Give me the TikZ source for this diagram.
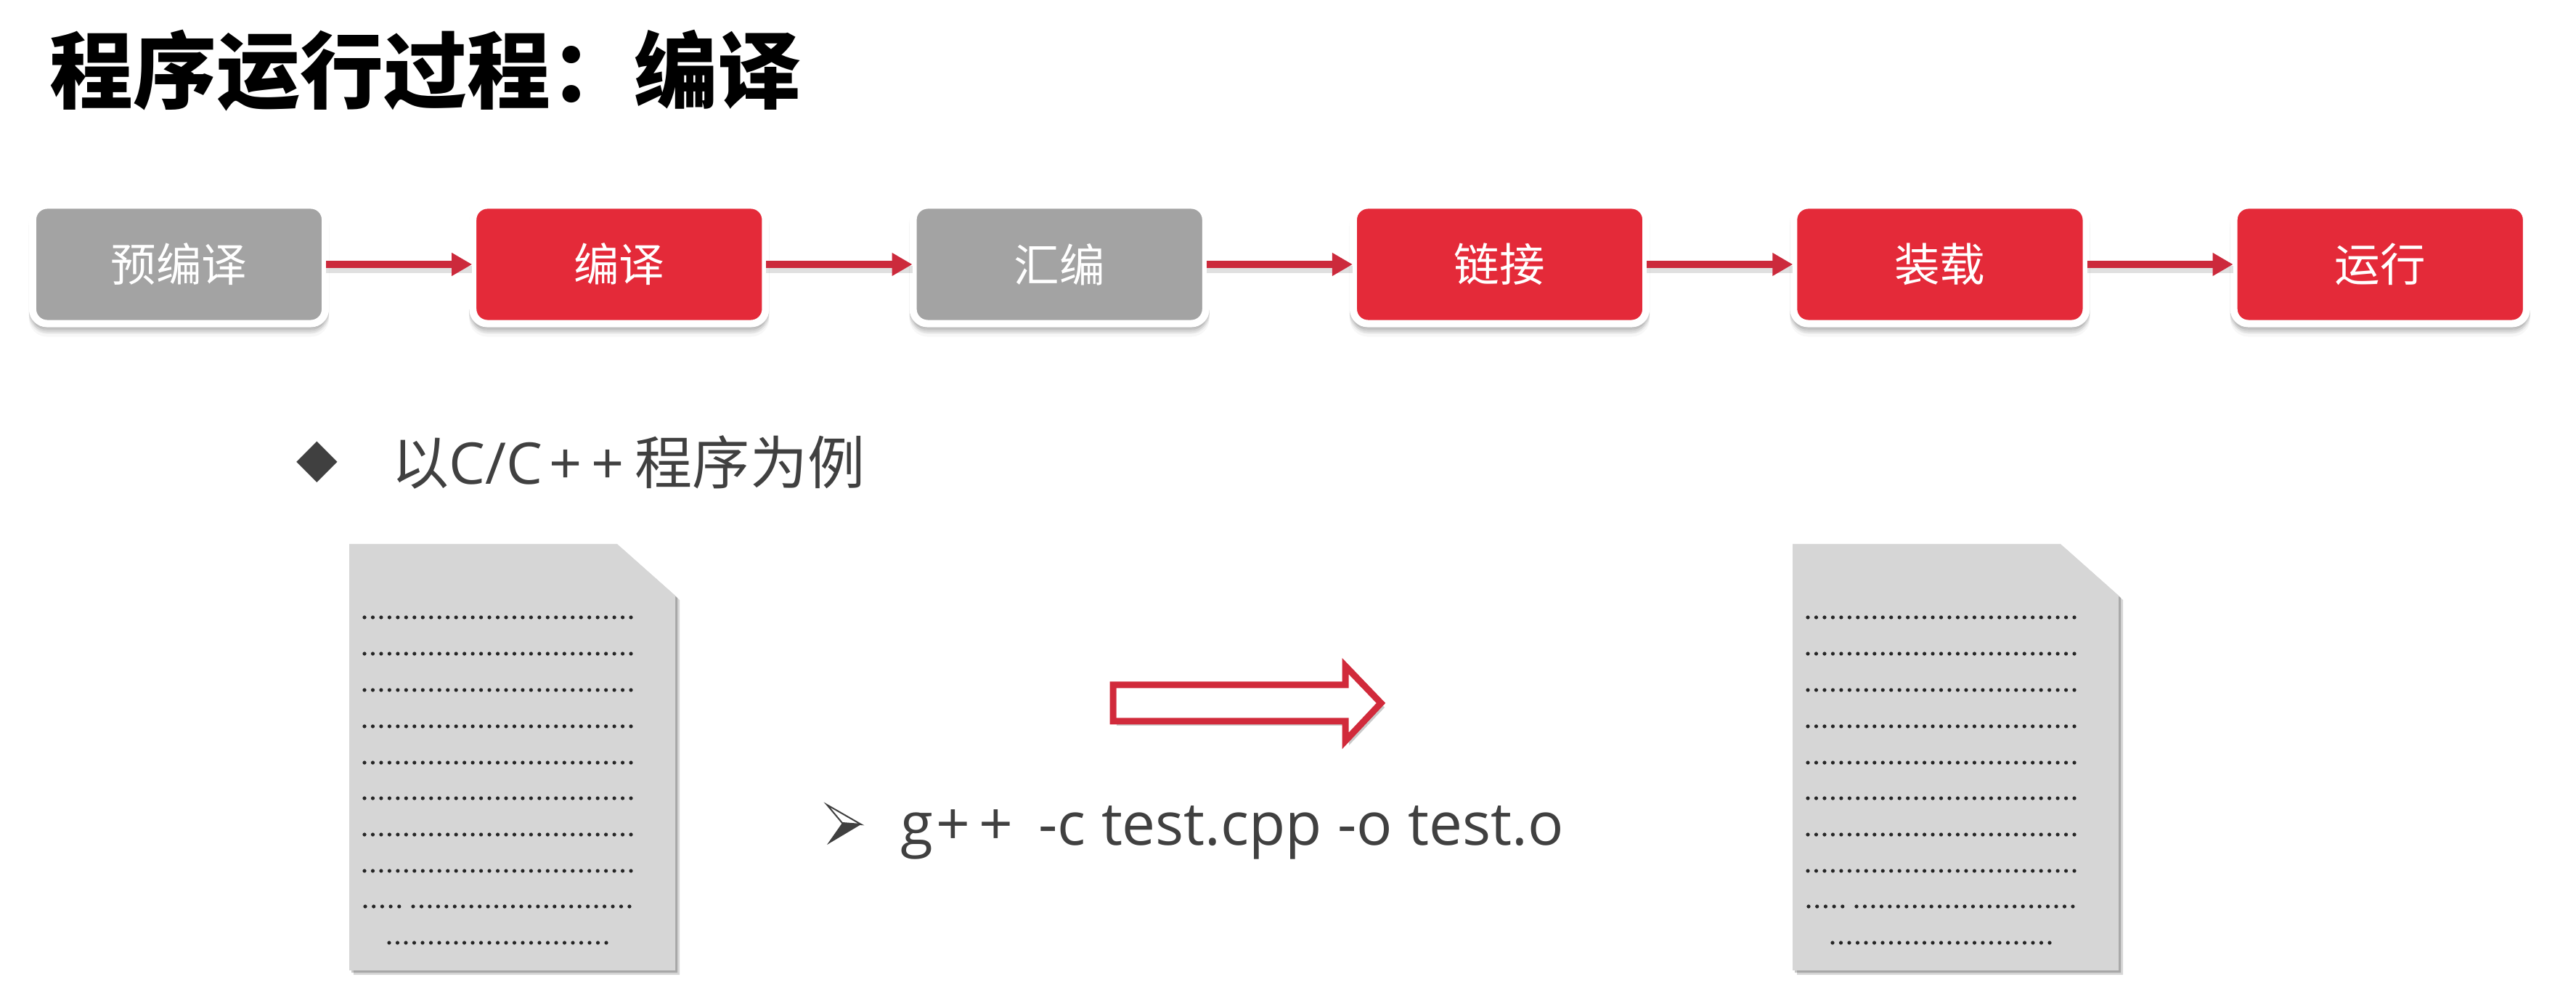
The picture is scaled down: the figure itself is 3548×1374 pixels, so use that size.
\documentclass[tikz,border=0pt]{standalone}
\usepackage{fontspec}
\setmainfont{Open Sans}
\newfontfamily\cjk{Noto Sans CJK SC}
\newfontfamily\symfont{DejaVu Sans}
\usepackage{xcolor}
\usepackage{tikz}
\usetikzlibrary{arrows.meta,positioning,shadows}
\definecolor{StageRed}{HTML}{E42A39}
\definecolor{StageGray}{HTML}{A3A3A3}
\definecolor{LinkRed}{HTML}{CC2A3C}
\definecolor{PaperGray}{HTML}{D6D6D6}
\definecolor{InkGray}{HTML}{404040}

\begin{document}
\begin{tikzpicture}[x=0.01cm,y=-0.01cm,
  softshadow/.style={
    general shadow={shadow xshift=0pt,shadow yshift=-0.03cm,fill=black,draw=black,opacity=0.06},
    general shadow={shadow xshift=0pt,shadow yshift=-0.06cm,fill=black,draw=black,opacity=0.06},
    general shadow={shadow xshift=0pt,shadow yshift=-0.09cm,fill=black,draw=black,opacity=0.05},
    general shadow={shadow xshift=0pt,shadow yshift=-0.13cm,fill=black,draw=black,opacity=0.03}},
  stagebox/.style={rectangle,rounded corners=0.2cm,draw=white,line width=0.10cm,
                   minimum width=4.03cm,minimum height=1.63cm,text=white,
                   font=\cjk\fontsize{17.8}{20}\selectfont,softshadow},
  grayst/.style={stagebox,fill=StageGray},
  redst/.style={stagebox,fill=StageRed},
  link/.style={-{Triangle[length=0.28cm,width=0.30cm]},draw=LinkRed,line width=0.10cm,
               shorten >=-0.04cm,shorten <=-0.04cm,
               preaction={draw=black,opacity=0.12,-,line width=0.10cm,
                          transform canvas={yshift=-0.07cm}}},
  paper/.style={fill=PaperGray,
    general shadow={shadow xshift=0.03cm,shadow yshift=-0.03cm,fill=black,opacity=0.22},
    general shadow={shadow xshift=0.06cm,shadow yshift=-0.06cm,fill=black,opacity=0.16}},
  body/.style={text=InkGray,inner sep=0pt},
  bigarrow/.style={draw=LinkRed!80!StageRed,line width=0.09cm,fill=white,miter limit=10,
                   drop shadow={shadow xshift=0.05cm,shadow yshift=-0.06cm,fill=black!60,opacity=0.35}},
  node distance=1.93cm
]
\useasboundingbox[fill=white] (0,0) rectangle (3548,1374);

\node[anchor=west,inner sep=0pt,font=\cjk\bfseries\fontsize{32.7}{36}\selectfont] (title) at (68,97) {程序运行过程：编译};

\node[grayst] (prep) at (246.5,364) {预编译};
\node[redst,right=of prep]   (comp) {编译};
\node[grayst,right=of comp]  (asm)  {汇编};
\node[redst,right=of asm]    (lnk)  {链接};
\node[redst,right=of lnk]    (load) {装载};
\node[redst,right=of load]   (run)  {运行};

\draw[link] (prep) -- (comp);
\draw[link] (comp) -- (asm);
\draw[link] (asm)  -- (lnk);
\draw[link] (lnk)  -- (load);
\draw[link] (load) -- (run);

\node[body,font=\symfont\fontsize{21}{24}\selectfont] (mark) at (437,636) {◆};
\node[body,anchor=west,font=\fontsize{22.5}{26}\selectfont] (intro) at (539,636) {{\cjk 以}C/C\kern2.5pt+\kern3.7pt+\kern4.2pt{\cjk 程序为例}};

% two sheets
\foreach \dx in {0,1988}{
  \begin{scope}[xshift=\dx*0.01cm]
    \fill[paper] (481,749) -- (850,749) -- (930,820) -- (930,1336) -- (481,1336) -- cycle;
    \foreach \ry in {850,900,950,1000,1050,1099,1149,1199}
      \foreach \k in {0,...,32}
        \fill[black!85] (502+\k*11.47,\ry) circle (2.6);
    \foreach \k in {0,...,4}
      \fill[black!85] (503+\k*11.7,1248) circle (2.6);
    \foreach \k in {0,...,26}{
      \fill[black!85] (569+\k*11.46,1248) circle (2.6);
      \fill[black!85] (536+\k*11.5,1298) circle (2.6);
    }
  \end{scope}
}

\draw[bigarrow] (1533,943) -- (1853,943) -- (1853,917) -- (1902,968) -- (1853,1020) -- (1853,993) -- (1533,993) -- cycle;

% bullet of the command line
\draw[InkGray,line width=0.02cm,fill=white] (1139,1108) -- (1186,1135) -- (1160,1133) -- cycle;
\fill[InkGray] (1139,1163) -- (1186,1135) -- (1160,1133) -- cycle;
\node[body,anchor=west,font=\fontsize{23.3}{28}\selectfont] (cmd) at (1240,1146) {g\kern1pt+\kern3.5pt+\kern10pt -c test.cpp -o test.o};
\end{tikzpicture}
\end{document}
